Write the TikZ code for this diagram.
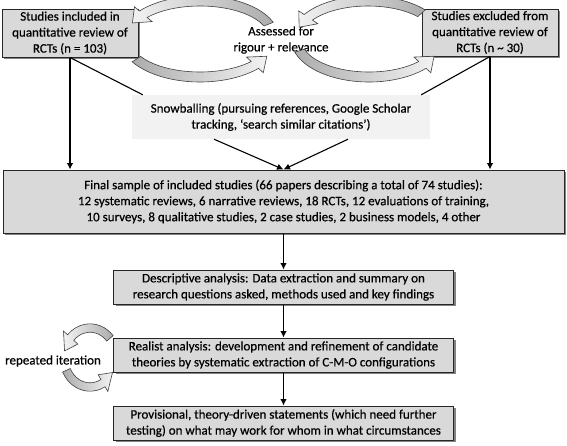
\documentclass[tikz,border=0pt]{standalone}
\usepackage{fontspec}
\setmainfont{Carlito}[FakeBold=0.5]
\usetikzlibrary{arrows.meta,shadows,calc}
\tikzset{
  box/.style={draw=black!85, line width=1pt, fill=gray!30, align=center, inner sep=0pt,
    font=\fontsize{13}{16}\selectfont,
    drop shadow={shadow xshift=2.2pt, shadow yshift=-2.2pt, fill=black!65, opacity=0.75}},
  softbox/.style={fill=gray!10, align=center, inner sep=0pt, font=\fontsize{13}{16}\selectfont},
  plaintext/.style={align=center, inner sep=0pt, font=\fontsize{13}{16}\selectfont},
  conn/.style={line width=1.1pt, -{Latex[length=6.5pt,width=6.5pt]}},
  link/.style={line width=1.1pt},
  arcup/.style={draw=black!75, line width=0.6pt, left color=gray!10, right color=gray!65},
  arcdown/.style={draw=black!75, line width=0.6pt, left color=gray!65, right color=gray!10}
}
% #1 style, #2 cx, #3 cy, #4 a, #5 b, #6 t1, #7 th, #8 t2, #9 half width
\newcommand{\blockarc}[9]{%
  \pgfmathsetmacro\rao{#4+#9}\pgfmathsetmacro\rbo{#5+#9}%
  \pgfmathsetmacro\rai{#4-#9}\pgfmathsetmacro\rbi{#5-#9}%
  \pgfmathsetmacro\rah{#4+2.3*#9}\pgfmathsetmacro\rbh{#5+2.3*#9}%
  \pgfmathsetmacro\raj{#4-2.3*#9}\pgfmathsetmacro\rbj{#5-2.3*#9}%
  \begin{scope}[shift={(#2,#3)}]
    \path[#1] (#6:\rao pt and \rbo pt)
      arc[start angle=#6, end angle=#7, x radius=\rao pt, y radius=\rbo pt]
      -- (#7:\rah pt and \rbh pt) -- (#8:#4pt and #5pt) -- (#7:\raj pt and \rbj pt)
      -- (#7:\rai pt and \rbi pt)
      arc[start angle=#7, end angle=#6, x radius=\rai pt, y radius=\rbi pt] -- cycle;
  \end{scope}}
\begin{document}
\begin{tikzpicture}[x=1pt, y=1pt]
\useasboundingbox (0,0) rectangle (567,-445);

\node[box, minimum width=136pt, minimum height=48pt] (A) at (70,-33)
  {Studies included in\\quantitative review of\\RCTs (n = 103)};
\node[box, minimum width=136pt, minimum height=47pt] (B) at (490,-32.5)
  {Studies excluded from\\quantitative review of\\RCTs (n \textasciitilde\ 30)};
\node[plaintext] (assess) at (281,-40) {Assessed for\\rigour + relevance};

\node[softbox, minimum width=298pt, minimum height=44pt] (snow) at (281,-117)
  {Snowballing (pursuing references, Google Scholar\\tracking, ‘search similar citations’)};

\node[box, minimum width=561pt, minimum height=63pt] (final) at (283.5,-201.5)
  {Final sample of included studies (66 papers describing a total of 74 studies):\\
   12 systematic reviews, 6 narrative reviews, 18 RCTs, 12 evaluations of training,\\
   10 surveys, 8 qualitative studies, 2 case studies, 2 business models, 4 other};

\node[box, minimum width=340pt, minimum height=34pt] (desc) at (283.5,-287)
  {Descriptive analysis: Data extraction and summary on\\research questions asked, methods used and key findings};
\node[box, minimum width=340pt, minimum height=34pt] (real) at (283.5,-355)
  {Realist analysis: development and refinement of candidate\\theories by systematic extraction of C-M-O configurations};
\node[box, minimum width=340pt, minimum height=34pt] (prov) at (283.5,-423)
  {Provisional, theory-driven statements (which need further\\testing) on what may work for whom in what circumstances};

\node[plaintext] (rep) at (53,-361) {repeated iteration};

% connectors
\draw[conn] (A.south) -- (A.south |- final.north);
\draw[conn] (B.south) -- (B.south |- final.north);
\draw[link] (A.south) -- ($(snow.north west)+(11,0)$);
\draw[link] (B.south) -- ($(snow.north east)+(-9,0)$);
\coordinate (meet) at (final.north);
\draw[conn] ($(snow.south)+(-67,0)$) -- (meet);
\draw[conn] ($(snow.south)+(67,0)$) -- (meet);
\draw[conn] (final.south) -- (desc.north);
\draw[conn] (desc.south) -- (real.north);
\draw[conn] (real.south) -- (prov.north);

% circular arrows
\blockarc{arcup}{200}{-38}{74}{37}{22}{140}{156}{5}
\blockarc{arcdown}{200}{-39}{75}{38}{212}{317}{333}{5}
\blockarc{arcup}{368}{-38}{72}{37}{42}{146}{163}{5}
\blockarc{arcdown}{369}{-39}{73}{38}{198}{317}{333}{5}
\blockarc{arcup}{90}{-357}{26}{29}{40}{138}{168}{4.2}
\blockarc{arcdown}{90}{-358}{26}{29}{205}{300}{330}{4.2}
\end{tikzpicture}
\end{document}
